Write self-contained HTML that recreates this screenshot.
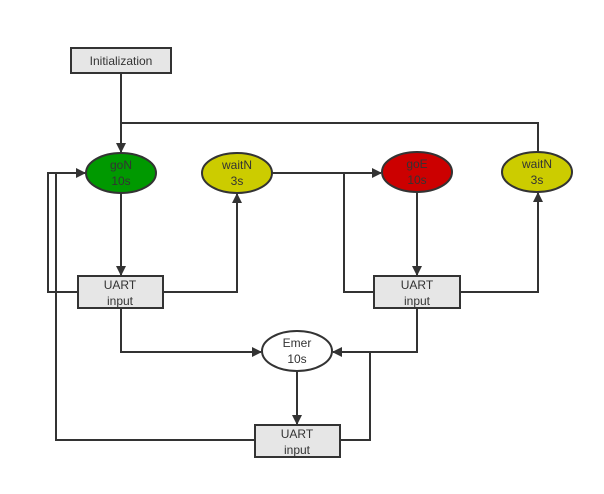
<!DOCTYPE html>
<html><head><style>body{margin:0;background:#fff}svg text{font-family:"Liberation Sans",sans-serif;font-size:12px;fill:#333;text-anchor:middle}</style></head>
<body>
<svg width="604" height="489" viewBox="0 0 604 489" xmlns="http://www.w3.org/2000/svg">
<defs><marker id="a" markerWidth="10" markerHeight="10" refX="9" refY="5" orient="auto" markerUnits="userSpaceOnUse"><path d="M0,0 L10,5 L0,10 z" fill="#333"/></marker></defs>
<g fill="none" stroke="#333" stroke-width="2">
<path d="M121,73 V152" marker-end="url(#a)"/>
<path d="M121,123 H538 V152"/>
<path d="M121,193 V275" marker-end="url(#a)"/>
<path d="M78,292 H48 V173 H85" marker-end="url(#a)"/>
<path d="M56,173 V440 H255"/>
<path d="M163,292 H237 V194" marker-end="url(#a)"/>
<path d="M272,173 H381" marker-end="url(#a)"/>
<path d="M344,173 V292 H374"/>
<path d="M417,192 V275" marker-end="url(#a)"/>
<path d="M460,292 H538 V193" marker-end="url(#a)"/>
<path d="M121,308 V352 H261" marker-end="url(#a)"/>
<path d="M417,308 V352 H333" marker-end="url(#a)"/>
<path d="M370,352 V440 H340"/>
<path d="M297,371 V424" marker-end="url(#a)"/>
</g>
<g stroke="#333" stroke-width="2">
<rect x="71" y="48" width="100" height="25" fill="#e6e6e6"/>
<rect x="78" y="276" width="85" height="32" fill="#e6e6e6"/>
<rect x="374" y="276" width="86" height="32" fill="#e6e6e6"/>
<rect x="255" y="425" width="85" height="32" fill="#e6e6e6"/>
<ellipse cx="121" cy="173" rx="35" ry="20" fill="#009900"/>
<ellipse cx="237" cy="173" rx="35" ry="20" fill="#cccc00"/>
<ellipse cx="417" cy="172" rx="35" ry="20" fill="#cc0000"/>
<ellipse cx="537" cy="172" rx="35" ry="20" fill="#cccc00"/>
<ellipse cx="297" cy="351" rx="35" ry="20" fill="#fff"/>
</g>
<text x="121" y="65">Initialization</text>
<text x="121" y="169">goN</text><text x="121" y="185">10s</text>
<text x="237" y="169">waitN</text><text x="237" y="185">3s</text>
<text x="417" y="168">goE</text><text x="417" y="184">10s</text>
<text x="537" y="168">waitN</text><text x="537" y="184">3s</text>
<text x="297" y="347">Emer</text><text x="297" y="363">10s</text>
<text x="120" y="289">UART</text><text x="120" y="305">input</text>
<text x="417" y="289">UART</text><text x="417" y="305">input</text>
<text x="297" y="438">UART</text><text x="297" y="454">input</text>
</svg>
</body></html>
